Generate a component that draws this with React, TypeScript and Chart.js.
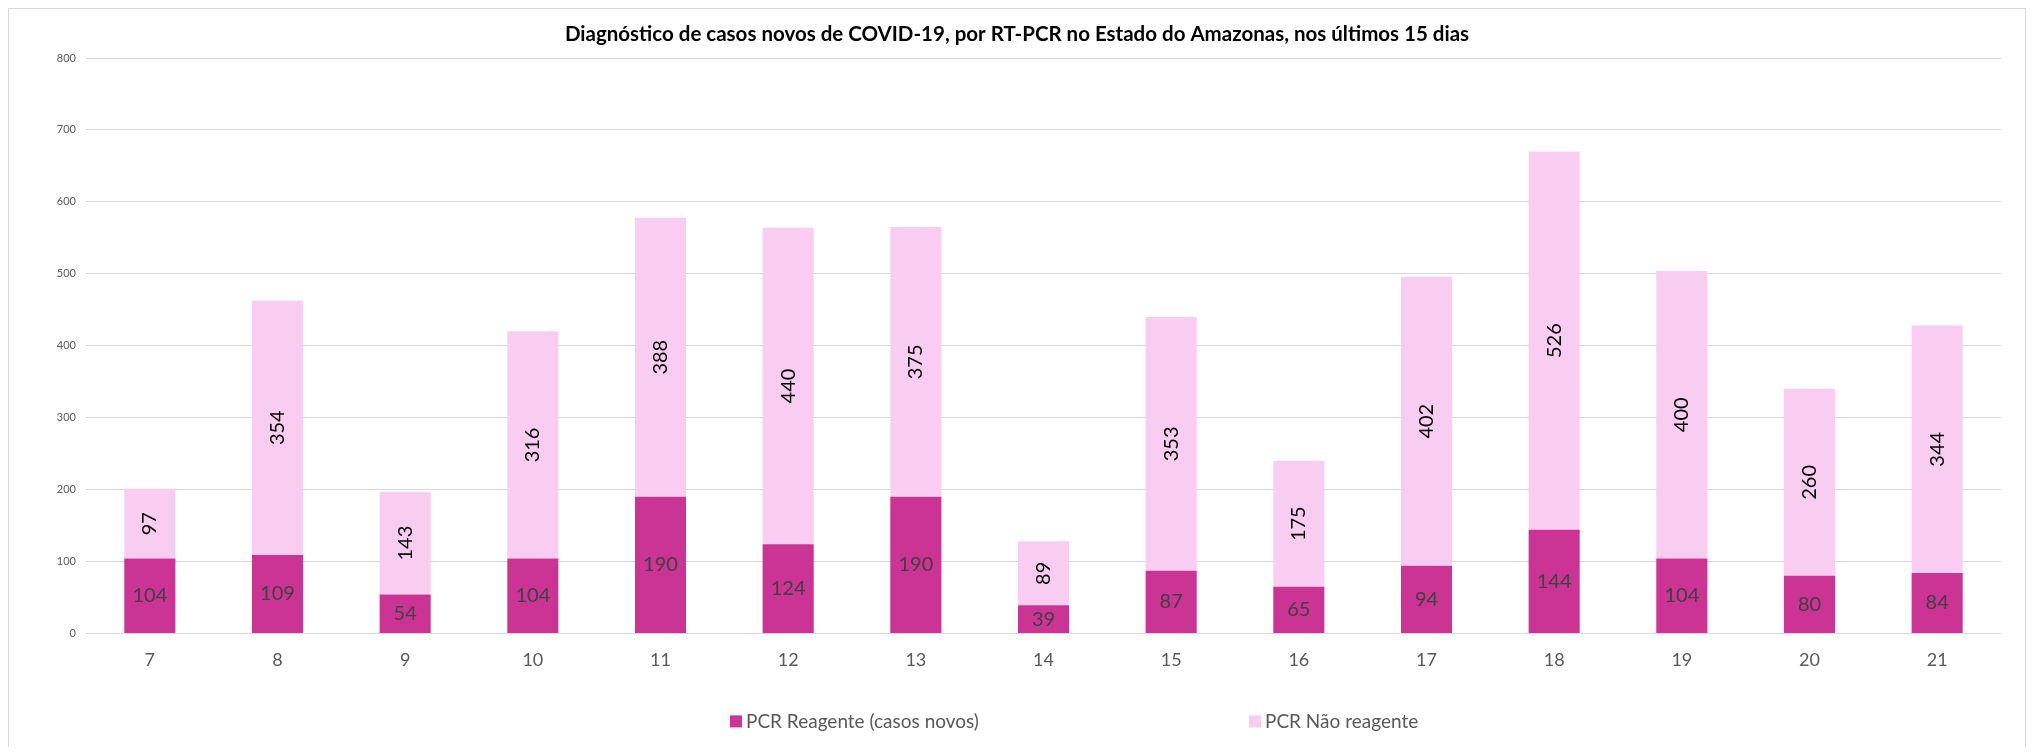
import React, { useEffect, useRef } from 'react';
import { Chart, registerables } from 'chart.js';

Chart.register(...registerables);

const titleText = 'Diagnóstico de casos novos de COVID-19, por RT-PCR no Estado do Amazonas, nos últimos 15 dias';
const days = ['7', '8', '9', '10', '11', '12', '13', '14', '15', '16', '17', '18', '19', '20', '21'];
const reagente = [104, 109, 54, 104, 190, 124, 190, 39, 87, 65, 94, 144, 104, 80, 84];
const naoReagente = [97, 354, 143, 316, 388, 440, 375, 89, 353, 175, 402, 526, 400, 260, 344];
const seriesNames = ['PCR Reagente (casos novos)', 'PCR Não reagente'];
const seriesColors = ['#CB3394', '#F9CDF2'];
const valueLabelColors = ['#404040', '#000000'];
const valueLabelRotation = [0, -Math.PI / 2];
const yMin = 0;
const yMax = 800;
const yStep = 100;

const FONT = 'Lato, "Open Sans", sans-serif';

const valueLabelsPlugin = {
  id: 'valueLabels',
  afterDatasetsDraw(chart: any) {
    const ctx = chart.ctx;
    chart.data.datasets.forEach((ds: any, di: number) => {
      const meta = chart.getDatasetMeta(di);
      meta.data.forEach((el: any, i: number) => {
        const { x, y, base } = el.getProps(['x', 'y', 'base'], true);
        const cy = (y + base) / 2;
        ctx.save();
        ctx.translate(x, cy);
        ctx.rotate(valueLabelRotation[di]);
        ctx.font = `20px ${FONT}`;
        ctx.fillStyle = valueLabelColors[di];
        ctx.textAlign = 'center';
        ctx.textBaseline = 'middle';
        ctx.fillText(String(ds.data[i]), 0, 0);
        ctx.restore();
      });
    });
  },
};

const centerTitlePlugin = {
  id: 'centerTitle',
  afterLayout(chart: any) {
    const tb = chart.titleBlock;
    if (tb) {
      tb.left = 0;
      tb.right = chart.width;
      tb.width = chart.width;
    }
  },
};

const legendPlugin = {
  id: 'customLegend',
  afterDraw(chart: any) {
    const ctx = chart.ctx;
    const area = chart.chartArea;
    const cy = area.bottom + 88;
    const offsets = [644, 1163];
    chart.data.datasets.forEach((ds: any, di: number) => {
      const x = area.left + offsets[di];
      ctx.save();
      ctx.fillStyle = ds.backgroundColor;
      ctx.fillRect(x, cy - 6, 12, 12);
      ctx.font = `19px ${FONT}`;
      ctx.fillStyle = '#595959';
      ctx.textAlign = 'left';
      ctx.textBaseline = 'middle';
      ctx.fillText(ds.label, x + 16, cy);
      ctx.restore();
    });
  },
};

export default function App() {
  const canvasRef = useRef<HTMLCanvasElement | null>(null);

  useEffect(() => {
    if (!canvasRef.current) return;
    const chart = new Chart(canvasRef.current, {
      type: 'bar',
      data: {
        labels: days,
        datasets: [
          {
            label: seriesNames[0],
            data: reagente,
            backgroundColor: seriesColors[0],
            borderWidth: 0,
            categoryPercentage: 0.8,
            barPercentage: 0.5,
          },
          {
            label: seriesNames[1],
            data: naoReagente,
            backgroundColor: seriesColors[1],
            borderWidth: 0,
            categoryPercentage: 0.8,
            barPercentage: 0.5,
          },
        ],
      },
      options: {
        animation: false,
        responsive: false,
        maintainAspectRatio: false,
        devicePixelRatio: 1,
        layout: { padding: { left: 0, right: 24, top: 0, bottom: 60 } },
        plugins: {
          legend: { display: false },
          tooltip: { enabled: false },
          title: {
            display: true,
            text: titleText,
            color: '#000000',
            font: { family: FONT, size: 20.5, weight: 'bold' },
            padding: { top: 13, bottom: 11.4 },
          },
        },
        scales: {
          x: {
            stacked: true,
            grid: { display: false, drawTicks: false },
            border: { display: false },
            ticks: {
              color: '#595959',
              font: { family: FONT, size: 18 },
              padding: 16,
            },
          },
          y: {
            stacked: true,
            min: yMin,
            max: yMax,
            afterFit: (axis: any) => {
              axis.width = 77;
            },
            grid: { color: '#D9D9D9', lineWidth: 1, drawTicks: false },
            border: { display: false },
            ticks: {
              stepSize: yStep,
              color: '#595959',
              font: { family: FONT, size: 11 },
              padding: 10,
            },
          },
        },
      },
      plugins: [centerTitlePlugin, valueLabelsPlugin, legendPlugin],
    });
    return () => chart.destroy();
  }, []);

  return (
    <div
      style={{
        width: 2016,
        height: 738,
        borderTop: '1px solid #D9D9D9',
        borderLeft: '1px solid #D9D9D9',
        borderRight: '1px solid #D9D9D9',
        background: '#FFFFFF',
      }}
    >
      <canvas ref={canvasRef} width={2016} height={738} style={{ display: 'block', width: 2016, height: 738 }} />
    </div>
  );
}
